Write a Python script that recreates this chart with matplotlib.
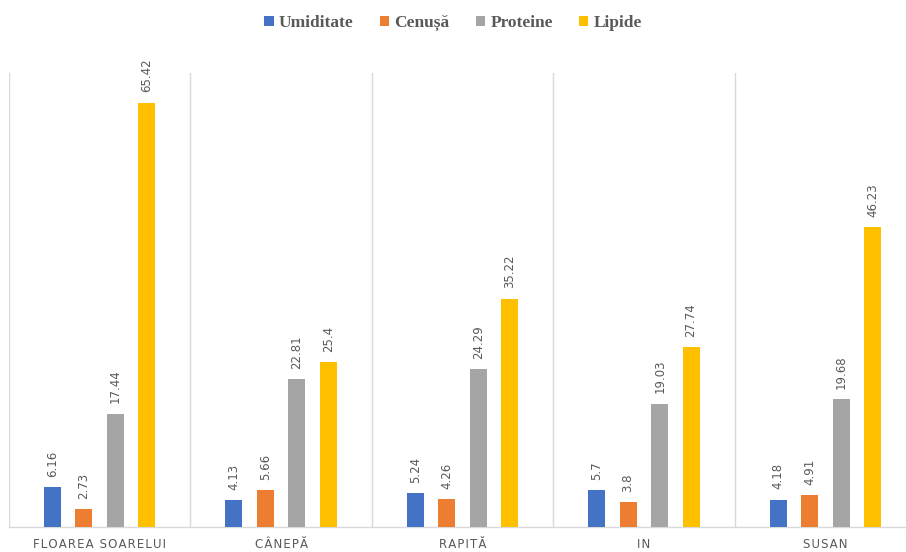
import matplotlib
matplotlib.use("Agg")
import matplotlib.pyplot as plt
import numpy as np

categories = ["FLOAREA SOARELUI", "CÂNEPĂ", "RAPITĂ", "IN", "SUSAN"]
series_names = ["Umiditate", "Cenușă", "Proteine", "Lipide"]
umiditate = [6.16, 4.13, 5.24, 5.7, 4.18]
cenusa = [2.73, 5.66, 4.26, 3.8, 4.91]
proteine = [17.44, 22.81, 24.29, 19.03, 19.68]
lipide = [65.42, 25.4, 35.22, 27.74, 46.23]

colors = ["#4472C4", "#ED7D31", "#A5A5A5", "#FFC000"]
text_gray = "#595959"
grid_gray = "#D9D9D9"

W, H = 906, 552
fig = plt.figure(figsize=(W / 100, H / 100), dpi=100)
# plot area runs past the right edge of the canvas
left, right, bottom, top = 9, 916, 527, 73
ax = fig.add_axes([left / W, 1 - bottom / H, (right - left) / W, (bottom - top) / H])

x = np.arange(len(categories))
offsets = [-0.26, -0.087, 0.087, 0.26]
width = 0.094
all_series = [umiditate, cenusa, proteine, lipide]

for vals, off, col, name in zip(all_series, offsets, colors, series_names):
    bars = ax.bar(x + off, vals, width=width, color=col, label=name, zorder=3)
    for b, v in zip(bars, vals):
        ax.annotate(f"{v:g}", (b.get_x() + b.get_width() / 2, v),
                    xytext=(0, 7.5), textcoords="offset points",
                    rotation=90, ha="center", va="bottom",
                    fontsize=8.5, color=text_gray, family="DejaVu Sans")

ax.set_xlim(-0.5, len(categories) - 0.5)
ax.set_ylim(0, 70)

# category separator gridlines
for b in np.arange(-0.5, len(categories), 1.0):
    ax.axvline(b, color=grid_gray, lw=1, zorder=1)

for s in ["top", "right", "left"]:
    ax.spines[s].set_visible(False)
ax.spines["bottom"].set_color(grid_gray)
ax.spines["bottom"].set_linewidth(1)
ax.set_yticks([])
ax.set_xticks(x)
spaced = ["\u200a".join(c) for c in categories]
ax.set_xticklabels(spaced, fontsize=8.5, color=text_gray, family="DejaVu Sans")
ax.tick_params(axis="x", length=0, pad=8)

leg = fig.legend(loc="center", bbox_to_anchor=(0.5, 1 - 23 / H), ncol=4,
                 frameon=False, handlelength=0.55, handleheight=0.55,
                 handletextpad=0.3, columnspacing=1.5,
                 prop={"family": "Liberation Serif", "weight": "bold", "size": 12.5})
for t in leg.get_texts():
    t.set_color(text_gray)

fig.savefig("out.png", dpi=100)
